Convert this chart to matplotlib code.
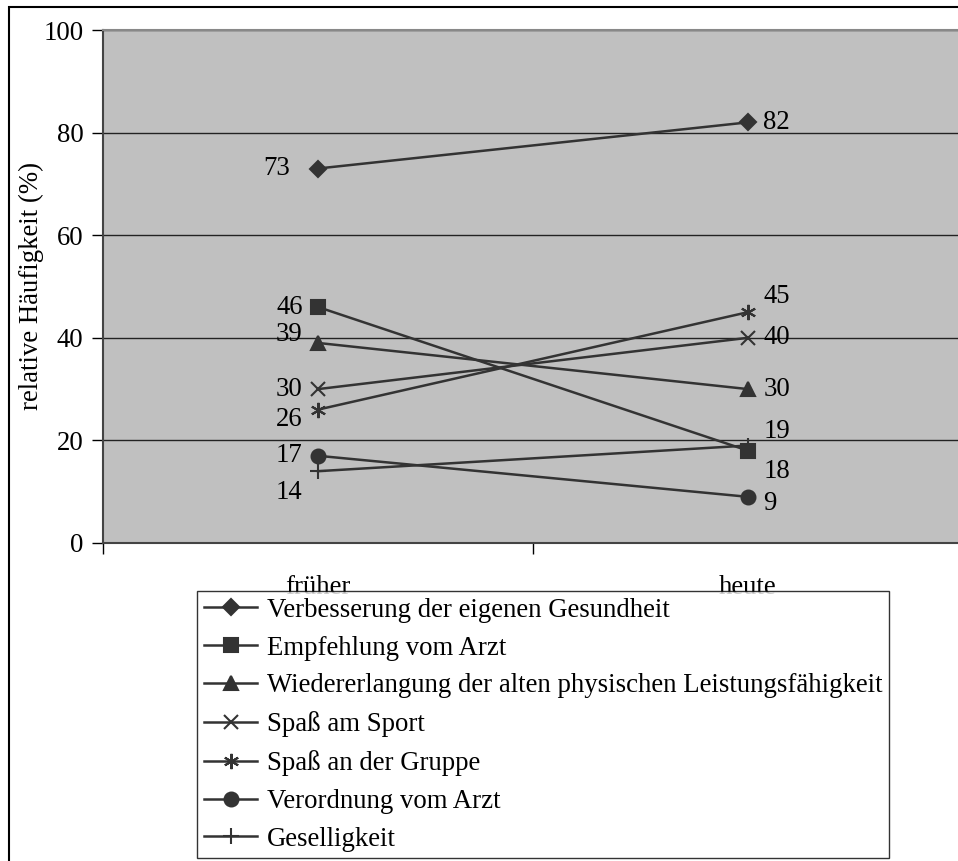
import matplotlib
matplotlib.use("Agg")
import matplotlib.pyplot as plt
from matplotlib.patches import Rectangle

plt.rcParams['font.family'] = ['Liberation Serif', 'DejaVu Serif']

# data
categories = ["früher", "heute"]
series_names = [
    "Verbesserung der eigenen Gesundheit",
    "Empfehlung vom Arzt",
    "Wiedererlangung der alten physischen Leistungsfähigkeit",
    "Spaß am Sport",
    "Spaß an der Gruppe",
    "Verordnung vom Arzt",
    "Geselligkeit",
]
frueher = [73, 46, 39, 30, 26, 17, 14]
heute = [82, 18, 30, 40, 45, 9, 19]

# styles
markers = ['D', 's', '^', 'x', (6, 2, 0), 'o', '+']
msizes = [8, 10, 10, 10, 11, 10, 11]
# vertical nudges (points) for value labels
nudge_left = [0, 0, 6, 0, -7, 0, -15]
nudge_right = [0, -15, 0, 0, 11, -5, 10]
dx_left = [-20, -11, -11, -11, -11, -11, -11]

line_col = '#333333'
fs = 19.3

fig = plt.figure(figsize=(9.58, 8.61), dpi=100)
ax = fig.add_axes([103 / 958, 1 - 543 / 861, 860 / 958, 513 / 861])
ax.set_facecolor('#c0c0c0')

x = list(range(len(categories)))
for i, name in enumerate(series_names):
    y = [frueher[i], heute[i]]
    ax.plot(x, y, color=line_col, lw=1.8, marker=markers[i], markersize=msizes[i],
            markerfacecolor=line_col, markeredgecolor=line_col, markeredgewidth=1.5,
            label=name, zorder=3, clip_on=False)
    ax.annotate(str(frueher[i]), (0, frueher[i]), xytext=(dx_left[i], nudge_left[i]),
                textcoords='offset points', ha='right', va='center', fontsize=fs)
    ax.annotate(str(heute[i]), (1, heute[i]), xytext=(11, nudge_right[i]),
                textcoords='offset points', ha='left', va='center', fontsize=fs)

ax.set_xlim(-0.5, 1.5)
ax.set_ylim(0, 100)
ax.set_yticks(range(0, 101, 20))
ax.yaxis.grid(True, color='#222222', lw=1)
ax.set_axisbelow(True)
ax.tick_params(axis='y', direction='out', length=8, width=1, pad=6, labelsize=fs)

ax.set_xticks([-0.5, 0.5, 1.5])
ax.set_xticklabels([])
ax.set_xticks([0, 1], minor=True)
ax.set_xticklabels(categories, minor=True, fontsize=fs)
ax.tick_params(axis='x', which='major', direction='out', length=8, width=1)
ax.tick_params(axis='x', which='minor', length=0, pad=23)

ax.spines['right'].set_visible(False)
ax.spines['top'].set_color('#888888')
ax.spines['left'].set_color('#444444')
ax.spines['bottom'].set_color('#444444')
for s in ['top', 'left', 'bottom']:
    ax.spines[s].set_linewidth(1.5)

ax.set_ylabel("relative Häufigkeit (%)", fontsize=fs)
ax.yaxis.set_label_coords(-0.069, 0.5)

leg = fig.legend(loc='upper left', bbox_to_anchor=(197 / 958, 1 - 591 / 861),
                 bbox_transform=fig.transFigure, fontsize=fs, frameon=True,
                 fancybox=False, shadow=False, borderaxespad=0, borderpad=0.25,
                 handlelength=2.0, handletextpad=0.35, labelspacing=0.48)
leg.get_frame().set_edgecolor('black')
leg.get_frame().set_linewidth(1)
leg.set_zorder(10)

# outer chart border
fig.patches.append(Rectangle((9 / 958, -0.05), 1.1, 1 - 7 / 861 + 0.05,
                             transform=fig.transFigure, fill=False,
                             edgecolor='black', lw=1.5))

fig.savefig("out.png", dpi=100)
